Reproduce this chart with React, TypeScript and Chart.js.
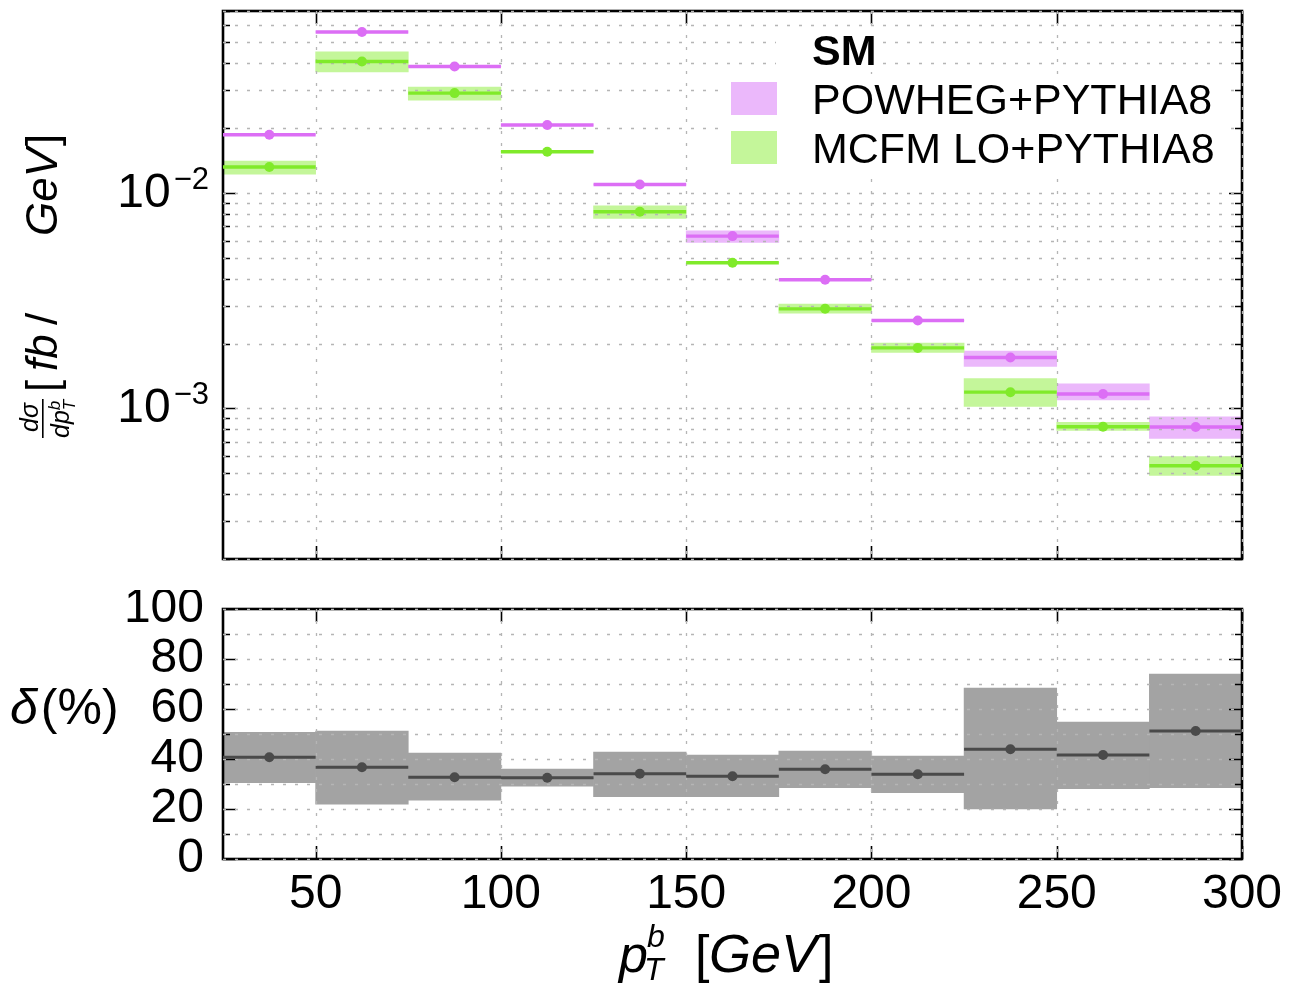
import React, { useEffect, useRef } from "react";
import { Chart, registerables } from "chart.js";

Chart.register(...registerables);

// ---------- data ----------
const binLow = [25, 50, 75, 100, 125, 150, 175, 200, 225, 250, 275];
const binHigh = [50, 75, 100, 125, 150, 175, 200, 225, 250, 275, 300];
const binCenter = [37.5, 62.5, 87.5, 112.5, 137.5, 162.5, 187.5, 212.5, 237.5, 262.5, 287.5];

const powhegValue = [0.01865, 0.0559, 0.0387, 0.0207, 0.01096, 0.00631, 0.00396, 0.00256, 0.001725, 0.001167, 0.00082];
const powhegBandLow = [0.01865, 0.0559, 0.0387, 0.0207, 0.01096, 0.0059, 0.00396, 0.00256, 0.001567, 0.001094, 0.000726];
const powhegBandHigh = [0.01865, 0.0559, 0.0387, 0.0207, 0.01096, 0.00668, 0.00396, 0.00256, 0.001847, 0.0013, 0.000915];

const mcfmValue = [0.0132, 0.0408, 0.0291, 0.01555, 0.00819, 0.00475, 0.0029, 0.00191, 0.00119, 0.000822, 0.000542];
const mcfmBandLow = [0.01225, 0.0365, 0.027, 0.01555, 0.00762, 0.00475, 0.00277, 0.00182, 0.001022, 0.000791, 0.000489];
const mcfmBandHigh = [0.01408, 0.0453, 0.031, 0.01555, 0.00873, 0.00475, 0.00305, 0.00201, 0.001377, 0.000861, 0.000597];

const deltaValue = [40.7, 36.7, 32.7, 32.5, 34.1, 33.1, 35.9, 33.9, 43.9, 41.6, 51.2];
const deltaBandLow = [30.5, 21.9, 23.5, 29.1, 24.9, 24.9, 28.5, 26.5, 20.0, 28.1, 28.5];
const deltaBandHigh = [50.7, 51.2, 42.4, 36.0, 42.8, 41.6, 43.2, 41.2, 68.4, 54.8, 74.0];

const xTicks = [50, 100, 150, 200, 250, 300];
const topMajorY = [1e-3, 1e-2];
const topMajorLabels = ["−3", "−2"];
const topMinorY = [2e-4, 3e-4, 4e-4, 5e-4, 6e-4, 7e-4, 8e-4, 9e-4, 2e-3, 3e-3, 4e-3, 5e-3, 6e-3, 7e-3, 8e-3, 9e-3, 2e-2, 3e-2, 4e-2, 5e-2, 6e-2, 7e-2];
const botMajorY = [0, 20, 40, 60, 80, 100];
const botMinorY = [10, 30, 50, 70, 90];

const legendTitle = "SM";
const seriesNames = ["POWHEG+PYTHIA8", "MCFM LO+PYTHIA8"];

// ---------- styles ----------
const FONT = '"Liberation Sans", Arial, Helvetica, sans-serif';
const MAG_LINE = "#dc6ef5";
const MAG_BAND = "#ebb8fb";
const GRN_LINE = "#80ea2a";
const GRN_BAND = "#c4f69a";
const GRAY_BAND = "#a3a3a3";
const GRAY_LINE = "#4a4a4a";

const segs = (vals: number[]) =>
  vals.flatMap((v, i) => [
    { x: binLow[i], y: v },
    { x: binHigh[i], y: v },
    { x: binHigh[i], y: null as any },
  ]);
const pts = (vals: number[]) => vals.map((v, i) => ({ x: binCenter[i], y: v }));
const bands = (lo: number[], hi: number[]) => lo.map((l, i) => ({ x: binCenter[i], y: [l, hi[i]] }));

function drawPanel(chart: any, majorY: number[], minorY: number[], gridY: number[], extra?: (ctx: CanvasRenderingContext2D) => void) {
  const { ctx, chartArea } = chart;
  const { left, right, top, bottom } = chartArea;
  const xs = chart.scales.x;
  const ys = chart.scales.y;
  ctx.save();
  // frame
  ctx.setLineDash([]);
  ctx.strokeStyle = "#000";
  ctx.lineWidth = 2.6;
  ctx.strokeRect(left, top, right - left, bottom - top);
  // ticks
  ctx.lineWidth = 1.6;
  ctx.beginPath();
  for (const v of xTicks) {
    const px = Math.round(xs.getPixelForValue(v)) + 0.5;
    ctx.moveTo(px, bottom);
    ctx.lineTo(px, bottom - 13);
    ctx.moveTo(px, top);
    ctx.lineTo(px, top + 13);
  }
  for (const v of majorY) {
    const py = Math.round(ys.getPixelForValue(v)) + 0.5;
    ctx.moveTo(left, py);
    ctx.lineTo(left + 13, py);
    ctx.moveTo(right, py);
    ctx.lineTo(right - 13, py);
  }
  for (const v of minorY) {
    const py = Math.round(ys.getPixelForValue(v)) + 0.5;
    ctx.moveTo(left, py);
    ctx.lineTo(left + 7, py);
    ctx.moveTo(right, py);
    ctx.lineTo(right - 7, py);
  }
  ctx.stroke();
  // grid
  ctx.strokeStyle = "#b5b5b5";
  ctx.lineWidth = 1.3;
  ctx.setLineDash([3, 9]);
  ctx.beginPath();
  for (const v of gridY) {
    const py = Math.round(ys.getPixelForValue(v)) + 0.5;
    ctx.moveTo(left, py);
    ctx.lineTo(right, py);
  }
  for (const v of xTicks) {
    const px = Math.round(xs.getPixelForValue(v)) + 0.5;
    ctx.moveTo(px, top);
    ctx.lineTo(px, bottom);
  }
  ctx.stroke();
  ctx.restore();
  if (extra) extra(ctx);
}

function makePanelPlugin(id: string, majorY: number[], minorY: number[], gridY: number[], labels: (chart: any) => void, extra?: (ctx: CanvasRenderingContext2D) => void) {
  let done = false;
  return {
    id,
    beforeDatasetsDraw() {
      done = false;
    },
    beforeDatasetDraw(chart: any, args: any) {
      if (done || args.meta.type === "bar") return;
      done = true;
      drawPanel(chart, majorY, minorY, gridY, extra);
    },
    afterDraw(chart: any) {
      labels(chart);
    },
  };
}

function rotText(ctx: CanvasRenderingContext2D, text: string, font: string, bx: number, sy: number) {
  ctx.save();
  ctx.font = font;
  ctx.translate(bx, sy);
  ctx.rotate(-Math.PI / 2);
  ctx.textAlign = "left";
  ctx.textBaseline = "alphabetic";
  ctx.fillText(text, 0, 0);
  const w = ctx.measureText(text).width;
  ctx.restore();
  return w;
}

function text(ctx: CanvasRenderingContext2D, t: string, font: string, x: number, y: number, align: CanvasTextAlign = "left") {
  ctx.font = font;
  ctx.textAlign = align;
  ctx.textBaseline = "alphabetic";
  ctx.fillText(t, x, y);
  return ctx.measureText(t).width;
}

function topLabels(chart: any) {
  const ctx: CanvasRenderingContext2D = chart.ctx;
  const ys = chart.scales.y;
  ctx.save();
  ctx.fillStyle = "#000";
  // y tick labels 10^-n
  topMajorY.forEach((v, i) => {
    const py = ys.getPixelForValue(v);
    ctx.font = `31px ${FONT}`;
    const we = ctx.measureText(topMajorLabels[i]).width;
    const ex = 209 - we;
    text(ctx, topMajorLabels[i], `31px ${FONT}`, ex, py - 4);
    text(ctx, "10", `48px ${FONT}`, ex - 3, py + 14, "right");
  });
  // y axis title (rotated)
  const it = (s: number) => `italic ${s}px ${FONT}`;
  const up = (s: number) => `${s}px ${FONT}`;
  rotText(ctx, "dσ", it(25), 38, 432);
  const wdp = rotText(ctx, "dp", it(25), 69, 438);
  rotText(ctx, "b", it(17), 60, 438 - wdp);
  rotText(ctx, "T", it(17), 75, 438 - wdp);
  ctx.fillRect(42, 399, 1.6, 39);
  rotText(ctx, "[", up(44), 57, 392);
  rotText(ctx, "fb", it(44), 57, 371);
  rotText(ctx, "/", up(44), 57, 325);
  const wg = rotText(ctx, "GeV", it(44), 57, 236);
  rotText(ctx, "]", up(44), 57, 236 - wg - 2);
  // legend
  ctx.fillStyle = MAG_BAND;
  ctx.fillRect(731, 82, 46, 33);
  ctx.fillStyle = GRN_BAND;
  ctx.fillRect(731, 131, 46, 33);
  ctx.fillStyle = "#000";
  text(ctx, legendTitle, `bold 43px ${FONT}`, 812, 65);
  text(ctx, seriesNames[0], `43px ${FONT}`, 812, 114);
  text(ctx, seriesNames[1], `43px ${FONT}`, 812, 163);
  ctx.restore();
}

function legendBoxes(ctx: CanvasRenderingContext2D) {
  ctx.save();
  ctx.fillStyle = "#fff";
  ctx.fillRect(776, 28, 100, 44);
  ctx.fillRect(722, 74, 500, 100);
  ctx.restore();
}

function botLabels(chart: any) {
  const ctx: CanvasRenderingContext2D = chart.ctx;
  const ys = chart.scales.y;
  const xs = chart.scales.x;
  ctx.save();
  ctx.fillStyle = "#000";
  botMajorY.forEach((v) => {
    const py = ys.getPixelForValue(v);
    text(ctx, String(v), `48px ${FONT}`, 204, py + 13, "right");
  });
  xTicks.forEach((v) => {
    const px = xs.getPixelForValue(v);
    text(ctx, String(v), `48px ${FONT}`, px, 318, "center");
  });
  // delta(%)
  const wd = text(ctx, "δ", `italic 50px ${FONT}`, 10, 134);
  text(ctx, "(%)", `50px ${FONT}`, 10 + wd + 3, 134);
  // x title
  const wp = text(ctx, "p", `italic 52px ${FONT}`, 619, 382);
  text(ctx, "b", `italic 32px ${FONT}`, 619 + wp - 1, 357);
  text(ctx, "T", `italic 32px ${FONT}`, 619 + wp - 4, 390);
  text(ctx, "[", `52px ${FONT}`, 695, 382);
  const wg = text(ctx, "GeV", `italic 54px ${FONT}`, 709, 382);
  text(ctx, "]", `52px ${FONT}`, 709 + wg + 2, 382);
  ctx.restore();
}

const W = 1291;
const TOP_H = 590;
const BOT_H = 396;

export default function App() {
  const topRef = useRef<HTMLCanvasElement>(null);
  const botRef = useRef<HTMLCanvasElement>(null);

  useEffect(() => {
    const common = {
      responsive: false,
      animation: false as const,
      devicePixelRatio: 1,
      plugins: { legend: { display: false }, tooltip: { enabled: false } },
    };

    const topChart = new Chart(topRef.current!, {
      type: "bar",
      data: {
        datasets: [
          { type: "bar", data: bands(powhegBandLow, powhegBandHigh) as any, backgroundColor: MAG_BAND, borderWidth: 0, barPercentage: 1, categoryPercentage: 1, grouped: false, order: 11 } as any,
          { type: "bar", data: bands(mcfmBandLow, mcfmBandHigh) as any, backgroundColor: GRN_BAND, borderWidth: 0, barPercentage: 1, categoryPercentage: 1, grouped: false, order: 10 } as any,
          { type: "line", data: segs(powhegValue) as any, borderColor: MAG_LINE, borderWidth: 3.4, pointRadius: 0, spanGaps: false, fill: false, tension: 0, order: 6 } as any,
          { type: "line", data: segs(mcfmValue) as any, borderColor: GRN_LINE, borderWidth: 3.4, pointRadius: 0, spanGaps: false, fill: false, tension: 0, order: 5 } as any,
          { type: "scatter", data: pts(powhegValue) as any, pointRadius: 5, pointBackgroundColor: MAG_LINE, pointBorderWidth: 0, order: 2 } as any,
          { type: "scatter", data: pts(mcfmValue) as any, pointRadius: 5, pointBackgroundColor: GRN_LINE, pointBorderWidth: 0, order: 1 } as any,
        ],
      },
      options: {
        ...common,
        layout: { padding: { left: 223, right: W - 1242, top: 11, bottom: TOP_H - 559 } },
        scales: {
          x: { type: "linear", min: 25, max: 300, offset: false, display: false },
          y: { type: "logarithmic", min: 2e-4, max: 0.07, display: false },
        },
      } as any,
      plugins: [makePanelPlugin("topPanel", topMajorY, topMinorY, [...topMajorY, ...topMinorY], topLabels, legendBoxes)],
    });

    const botChart = new Chart(botRef.current!, {
      type: "bar",
      data: {
        datasets: [
          { type: "bar", data: bands(deltaBandLow, deltaBandHigh) as any, backgroundColor: GRAY_BAND, borderWidth: 0, barPercentage: 1, categoryPercentage: 1, grouped: false, order: 10 } as any,
          { type: "line", data: segs(deltaValue) as any, borderColor: GRAY_LINE, borderWidth: 3.2, pointRadius: 0, spanGaps: false, fill: false, tension: 0, order: 5 } as any,
          { type: "scatter", data: pts(deltaValue) as any, pointRadius: 5, pointBackgroundColor: GRAY_LINE, pointBorderWidth: 0, order: 1 } as any,
        ],
      },
      options: {
        ...common,
        layout: { padding: { left: 223, right: W - 1242, top: 609 - TOP_H, bottom: TOP_H + BOT_H - 859 } },
        scales: {
          x: { type: "linear", min: 25, max: 300, offset: false, display: false },
          y: { type: "linear", min: 0, max: 100, display: false },
        },
      } as any,
      plugins: [makePanelPlugin("botPanel", botMajorY, botMinorY, [...botMajorY, ...botMinorY], botLabels)],
    });

    return () => {
      topChart.destroy();
      botChart.destroy();
    };
  }, []);

  return (
    <div style={{ position: "absolute", left: 0, top: 0, width: W, height: TOP_H + BOT_H, background: "#fff" }}>
      <canvas ref={topRef} width={W} height={TOP_H} style={{ position: "absolute", left: 0, top: 0, width: W, height: TOP_H }} />
      <canvas ref={botRef} width={W} height={BOT_H} style={{ position: "absolute", left: 0, top: TOP_H, width: W, height: BOT_H }} />
    </div>
  );
}
